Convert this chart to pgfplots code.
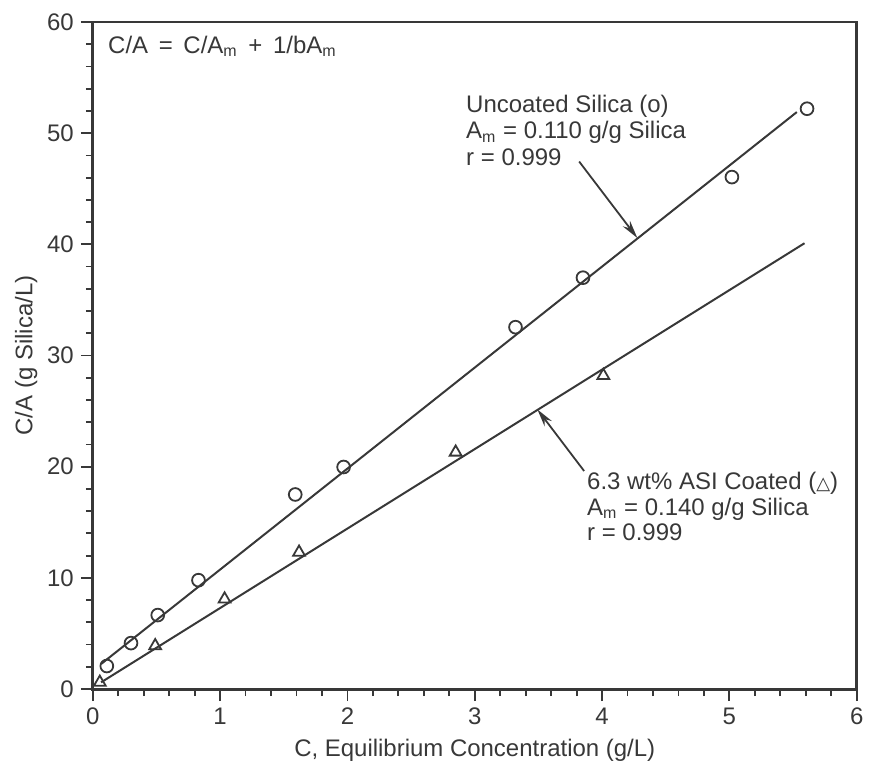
\documentclass[border=0pt]{standalone}
\usepackage{fontspec}
\setmainfont{Liberation Sans}
\newfontfamily\symfont{DejaVu Sans}
\usepackage{pgfplots}
\pgfplotsset{compat=1.18}
\usetikzlibrary{arrows.meta}
\definecolor{ink}{gray}{0.22}

\begin{document}
\begin{tikzpicture}
\begin{axis}[
scale only axis,
width=382.5pt,height=334pt,
xmin=0,xmax=6,ymin=0,ymax=60,
xtick={0,1,...,6},ytick={0,10,...,60},
minor x tick num=4,minor y tick num=4,
xtick pos=bottom,ytick pos=left,
tick align=outside,
major tick length=6pt,minor tick length=3.5pt,
axis line style={line width=1.5pt,ink},
tick style={line width=0.9pt,ink},
every tick label/.append style={text=ink},
font=\fontsize{12}{14}\selectfont,
/pgf/number format/assume math mode=true,
xlabel={C, Equilibrium Concentration (g/L)},
ylabel={C/A (g Silica/L)},
label style={text=ink},
ylabel style={yshift=-2pt},
clip=false
]
% invisible frame to match the page size of the scan
\path (axis cs:-0.729,-7.365) rectangle (axis cs:6.094,61.98);

% fitted lines
\addplot[ink,line width=1pt] coordinates {(0.065,2.25) (5.53,51.9)};
\addplot[ink,line width=1pt] coordinates {(0.065,0.6) (5.59,40.1)};

% uncoated silica
\addplot[only marks,mark=o,mark size=3.2pt,
  mark options={fill=white,draw=ink,line width=0.9pt}] coordinates {
(0.11,2.07)
(0.30,4.13)
(0.51,6.65)
(0.83,9.79)
(1.59,17.5)
(1.97,19.97)
(3.32,32.55)
(3.85,37.0)
(5.02,46.05)
(5.61,52.2)
};
% ASI coated
\addplot[only marks,mark=triangle,mark size=3.4pt,
  mark options={fill=white,draw=ink,line width=0.9pt}] coordinates {
(0.055,0.6)
(0.49,3.89)
(1.035,8.09)
(1.62,12.3)
(2.85,21.3)
(4.01,28.2)
};

% annotations
\node[anchor=north west,inner sep=0pt,text=ink,font=\fontsize{12}{14}\selectfont]
  at (axis cs:0.118,58.8) {C/A \,=\, C/A\textsubscript{m} \,+\, 1/bA\textsubscript{m}};
\node[anchor=north west,align=left,inner sep=0pt,text=ink,font=\fontsize{12}{13.5}\selectfont]
  at (axis cs:2.93,53.5) {Uncoated Silica (o)\\A\textsubscript{m} = 0.110 g/g Silica\\r = 0.999};
\node[anchor=north west,align=left,inner sep=0pt,text=ink,font=\fontsize{12}{12.8}\selectfont]
  at (axis cs:3.88,19.55) {6.3 wt\% ASI Coated ({\symfont\small △})\\A\textsubscript{m} = 0.140 g/g Silica\\r = 0.999};
\draw[ink,line width=0.9pt,-{Stealth[length=9pt,width=4.5pt]}]
  (axis cs:3.82,47.45) -- (axis cs:4.277,40.57);
\draw[ink,line width=0.9pt,-{Stealth[length=9pt,width=4.5pt]}]
  (axis cs:3.859,19.61) -- (axis cs:3.492,25.15);
\end{axis}
\end{tikzpicture}
\end{document}
